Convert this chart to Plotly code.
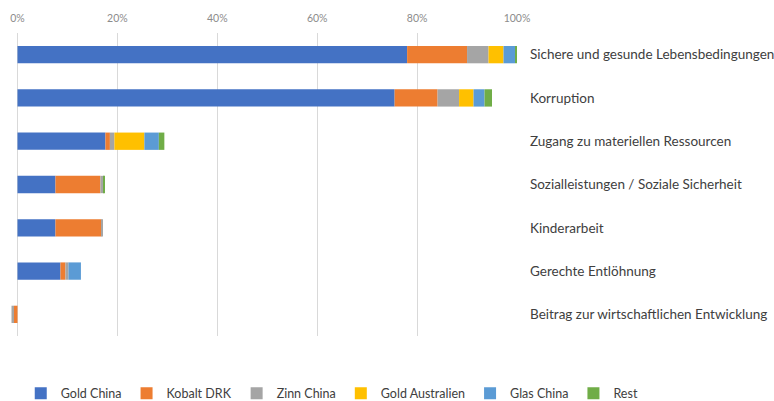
import plotly.graph_objects as go

categories = [
    "Sichere und gesunde Lebensbedingungen",
    "Korruption",
    "Zugang zu materiellen Ressourcen",
    "Sozialleistungen / Soziale Sicherheit",
    "Kinderarbeit",
    "Gerechte Entlöhnung",
    "Beitrag zur wirtschaftlichen Entwicklung",
]
series_names = ["Gold China", "Kobalt DRK", "Zinn China", "Gold Australien", "Glas China", "Rest"]
gold_china = [78.0, 75.5, 17.6, 7.6, 7.6, 8.6, 0.0]
kobalt_drk = [12.0, 8.6, 0.9, 9.0, 9.2, 1.0, -0.7]
zinn_china = [4.3, 4.3, 0.9, 0.7, 0.3, 0.6, -0.5]
gold_australien = [3.0, 2.9, 6.0, 0.0, 0.0, 0.0, 0.0]
glas_china = [2.3, 2.2, 2.9, 0.0, 0.0, 2.5, 0.0]
rest = [0.4, 1.5, 1.1, 0.1, 0.0, 0.0, 0.0]
tick_vals = [0, 20, 40, 60, 80, 100]
tick_text = ["0%", "20%", "40%", "60%", "80%", "100%"]
colors = ["#4472C4", "#ED7D31", "#A5A5A5", "#FFC000", "#5B9BD5", "#70AD47"]

values = [gold_china, kobalt_drk, zinn_china, gold_australien, glas_china, rest]

fig = go.Figure()
for name, vals, col in zip(series_names, values, colors):
    fig.add_trace(go.Bar(
        y=categories, x=vals, name=name, orientation="h",
        marker=dict(color=col, line=dict(width=0)), width=0.4,
    ))

fig.update_layout(
    barmode="relative",
    width=774, height=401,
    margin=dict(l=10, r=257, t=33, b=65, autoexpand=False),
    paper_bgcolor="white", plot_bgcolor="white",
    font=dict(family="Lato", color="#404040"),
    showlegend=True,
    legend=dict(orientation="h", x=1.25, xanchor="right", y=-0.19, yanchor="middle",
                font=dict(size=12.5, color="#404040"), traceorder="normal",
                itemwidth=30, tracegroupgap=0),
    xaxis=dict(side="top", range=[-1.5, 100], tickvals=tick_vals, ticktext=tick_text,
               showgrid=True, gridcolor="#d9d9d9", gridwidth=1,
               zeroline=True, zerolinecolor="#d9d9d9", zerolinewidth=1,
               tickfont=dict(size=10.5, color="#8c8c8c"), ticks="", showline=False,
               ticklabelstandoff=8),
    yaxis=dict(side="right", autorange="reversed", showgrid=False, showline=False,
               ticks="", tickfont=dict(size=13.5, color="#404040"), ticklabelstandoff=12),
)

fig.write_html("out.html")
